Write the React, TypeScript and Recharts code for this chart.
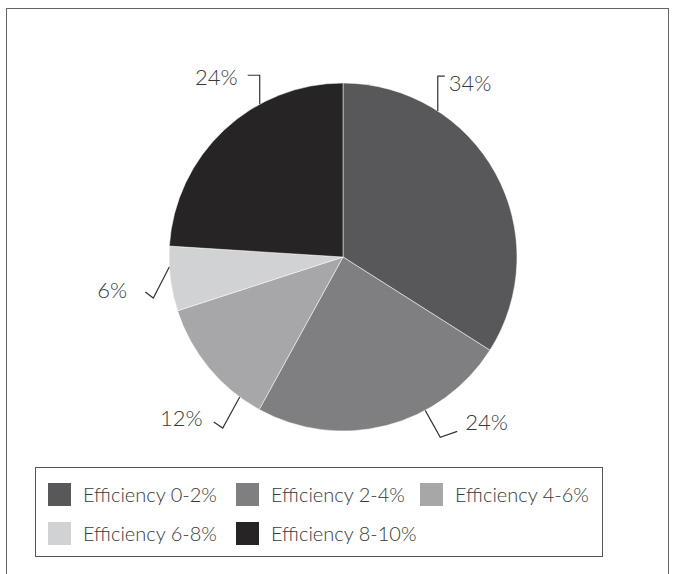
import { Cell, Legend, Pie, PieChart } from "recharts";

const CATEGORIES = ["Efficiency 0-2%", "Efficiency 2-4%", "Efficiency 4-6%", "Efficiency 6-8%", "Efficiency 8-10%"];
const SHARES = [34, 24, 12, 6, 24];
const COLORS = ["#58585a", "#7f7f81", "#a7a7a9", "#d1d2d4", "#262425"];

const data = CATEGORIES.map((name, i) => ({ name, value: SHARES[i] }));

const FONT = "Lato, 'Open Sans', sans-serif";
const INK = "#3a3a3a";

// leader line layout per slice: where it leaves the rim (deg clockwise from top),
// the elbow offset, the tail offset and where the text sits relative to the tail
const LEADERS = [
  { at: 33, elbow: [0, -35], tail: [7, 0], text: [4, 6], anchor: "start" },
  { at: 151.8, elbow: [15, 27], tail: [17, -6], text: [8, -10], anchor: "start" },
  { at: 216.4, elbow: [-17, 31], tail: [-9, -6], text: [-11, -5], anchor: "end" },
  { at: 266.7, elbow: [-16, 31], tail: [-8, -6], text: [-18, -3], anchor: "end" },
  { at: 331.4, elbow: [0, -29], tail: [-12, 0], text: [-10, 1], anchor: "end" },
];

function renderLabel(props: any) {
  const { cx, cy, outerRadius, index, value } = props;
  const l = LEADERS[index];
  const rad = (l.at * Math.PI) / 180;
  const x0 = cx + outerRadius * Math.sin(rad);
  const y0 = cy - outerRadius * Math.cos(rad);
  const x1 = x0 + l.elbow[0];
  const y1 = y0 + l.elbow[1];
  const x2 = x1 + l.tail[0];
  const y2 = y1 + l.tail[1];
  return (
    <g>
      <polyline points={`${x0},${y0} ${x1},${y1} ${x2},${y2}`} fill="none" stroke="#333" strokeWidth={1.2} />
      <text
        x={x2 + l.text[0]}
        y={y2 + l.text[1]}
        textAnchor={l.anchor}
        dominantBaseline="central"
        fill={INK}
        fontSize={22}
        fontWeight={300}
        fontFamily={FONT}
      >
        {`${value}%`}
      </text>
    </g>
  );
}

function LegendBox() {
  return (
    <div
      style={{
        boxSizing: "border-box",
        width: 568,
        height: 90,
        border: "1px solid #555",
        padding: "15px 0 0 12px",
        display: "grid",
        gridTemplateColumns: "188px 184px auto",
        gridAutoRows: "23px",
        rowGap: 16,
        fontFamily: FONT,
        fontWeight: 300,
        fontSize: 20,
        lineHeight: "23px",
        color: INK,
        background: "#fff",
      }}
    >
      {CATEGORIES.map((c, i) => (
        <div key={c} style={{ display: "flex", alignItems: "center", height: 23 }}>
          <span style={{ width: 23, height: 23, background: COLORS[i], marginRight: 12, flex: "none" }} />
          <span style={{ whiteSpace: "nowrap" }}>{c}</span>
        </div>
      ))}
    </div>
  );
}

export default function App() {
  return (
    <div style={{ position: "absolute", left: 0, top: 0, width: 677, height: 574, overflow: "hidden", background: "#fff" }}>
      <div
        style={{
          position: "absolute",
          left: 6,
          top: 8,
          width: 661,
          height: 620,
          border: "1.5px solid #666",
        }}
      />
      <div style={{ position: "absolute", left: 0, top: 0 }}>
        <PieChart width={677} height={574} margin={{ top: 0, right: 0, bottom: 0, left: 0 }}>
          <Pie
            data={data}
            dataKey="value"
            nameKey="name"
            cx={343}
            cy={257}
            outerRadius={174}
            startAngle={90}
            endAngle={-270}
            stroke="#ffffff"
            strokeWidth={0.5}
            label={renderLabel}
            labelLine={false}
            isAnimationActive={false}
          >
            {data.map((d, i) => (
              <Cell key={d.name} fill={COLORS[i]} />
            ))}
          </Pie>
          <Legend
            content={() => <LegendBox />}
            wrapperStyle={{ position: "absolute", left: 35, top: 467, width: 568, bottom: "auto" }}
          />
        </PieChart>
      </div>
    </div>
  );
}
